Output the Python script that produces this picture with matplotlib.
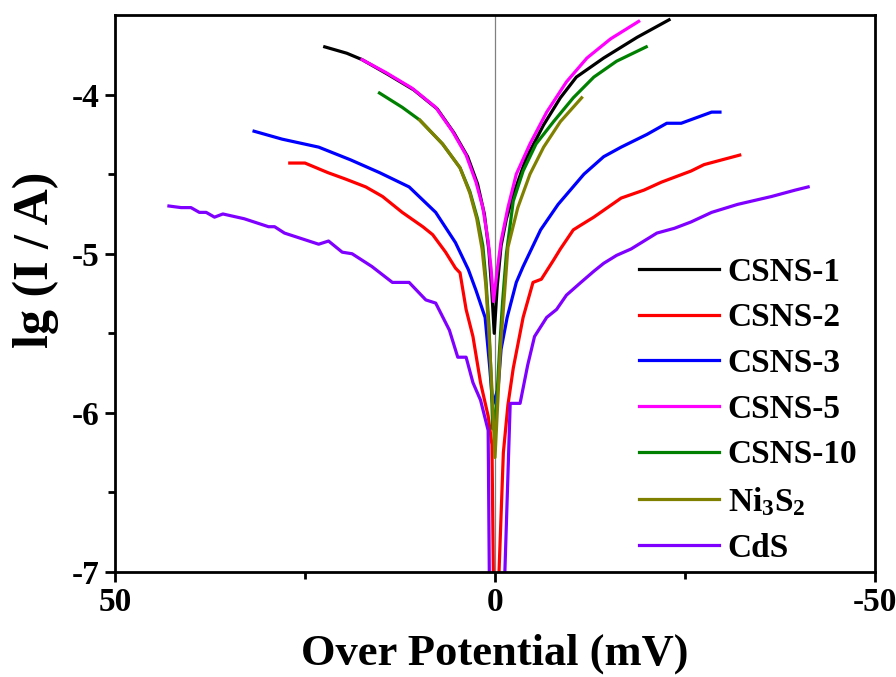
import matplotlib
matplotlib.use("Agg")
import matplotlib.pyplot as plt
from matplotlib.ticker import FixedLocator

plt.rcParams['font.family'] = ['Liberation Serif', 'DejaVu Serif']
plt.rcParams['font.weight'] = 'bold'
plt.rcParams['axes.unicode_minus'] = False
plt.rcParams['mathtext.fontset'] = 'custom'
plt.rcParams['mathtext.rm'] = 'Liberation Serif:bold'
plt.rcParams['mathtext.it'] = 'Liberation Serif:bold'
plt.rcParams['mathtext.bf'] = 'Liberation Serif:bold'

# ---- data (over potential in mV, lg I) ----
csns1_x = [22.4, 19.5, 17.5, 14.2, 10.7, 7.6, 5.4, 3.6, 2.3, 1.4, 0.8, 0.4, 0.1,
           -0.3, -0.8, -1.5, -2.4, -4.1, -6.4, -8.6, -10.7, -14.3, -18.7, -22.9]
csns1_y = [-3.70, -3.74, -3.78, -3.87, -3.97, -4.09, -4.24, -4.39, -4.56, -4.75, -4.98, -5.25, -5.5,
           -5.2, -4.95, -4.78, -4.63, -4.40, -4.19, -4.02, -3.89, -3.77, -3.64, -3.53]

csns2_x = [27, 25, 22, 19.7, 17, 14.8, 12.2, 9.5, 8.2, 6.5, 5.2, 4.6, 3.8, 2.9, 1.9, 0.9, 0.4, 0.15,
           -0.3, -1.1, -1.7, -2.4, -3.7, -5.0, -6.1, -7.7, -8.6, -10.3, -11.3, -13, -16.6, -19.6,
           -21.9, -25.8, -27.5, -32.2]
csns2_y = [-4.43, -4.43, -4.49, -4.53, -4.58, -4.64, -4.74, -4.83, -4.88, -4.99, -5.09, -5.12, -5.35,
           -5.52, -5.81, -6.02, -6.2, -7.3,
           -7.3, -6.25, -5.95, -5.72, -5.40, -5.18, -5.16, -5.04, -4.97, -4.85, -4.82, -4.77, -4.65,
           -4.60, -4.55, -4.48, -4.44, -4.38]

csns3_x = [31.7, 28, 23.2, 19, 15.2, 11.3, 7.8, 5.2, 3.5, 2.5, 1.3, 0.7, 0.3,
           -0.4, -0.8, -1.6, -2.8, -3.7, -6.0, -8.3, -11.7, -14.3, -16.6, -20, -22.6, -24.5,
           -28.5, -29.6]
csns3_y = [-4.23, -4.28, -4.33, -4.41, -4.49, -4.58, -4.74, -4.93, -5.10, -5.23, -5.40, -5.71, -5.95,
           -5.85, -5.6, -5.4, -5.18, -5.08, -4.85, -4.69, -4.50, -4.39, -4.33, -4.25, -4.18, -4.18,
           -4.11, -4.11]

csns5_x = [17.5, 14.4, 10.9, 7.8, 5.6, 3.8, 2.5, 1.6, 0.9, 0.5, 0.2,
           -0.3, -0.8, -1.7, -2.8, -4.6, -6.8, -9.4, -12.1, -15.2, -18.9]
csns5_y = [-3.78, -3.86, -3.96, -4.08, -4.23, -4.38, -4.55, -4.71, -4.92, -5.1, -5.3,
           -5.1, -4.92, -4.71, -4.50, -4.31, -4.11, -3.92, -3.77, -3.65, -3.54]

csns10_x = [15.2, 12.2, 9.9, 6.9, 4.6, 3.3, 2.3, 1.6, 1.2, 0.8, 0.5, 0.3,
            -0.2, -0.6, -1.0, -1.5, -2.4, -3.7, -5.4, -7.7, -10.3, -13, -16, -19.9]
csns10_y = [-3.99, -4.08, -4.16, -4.31, -4.46, -4.61, -4.78, -4.95, -5.16, -5.45, -5.79, -6.1,
            -5.95, -5.6, -5.3, -5.0, -4.67, -4.48, -4.31, -4.17, -4.02, -3.89, -3.79, -3.70]

ni3s2_x = [9.9, 6.9, 4.6, 3.3, 2.4, 1.7, 1.2, 0.8, 0.4, 0.0,
           -0.4, -0.7, -1.1, -1.7, -3.0, -4.6, -6.4, -8.6, -11.4]
ni3s2_y = [-4.16, -4.31, -4.46, -4.62, -4.78, -4.97, -5.2, -5.5, -5.85, -6.28,
           -5.9, -5.6, -5.35, -4.96, -4.71, -4.50, -4.33, -4.17, -4.02]

cds_x = [42.9, 41.3, 40, 38.9, 38, 36.9, 35.8, 33, 29.8, 29, 27.7, 23.2, 21.9, 20.1, 18.8, 16.2,
         13.5, 11.3, 9.1, 7.8, 6, 4.9, 3.8, 2.9, 1.9, 0.9, 0.7,
         -1.1, -2.0, -3.3, -4.3, -5.2, -6.8, -8.1, -9.4, -11.3, -13, -14.3, -16, -17.9, -21.3,
         -23.6, -25.8, -28.5, -31.9, -36.4, -39.5, -41.2]
cds_y = [-4.70, -4.71, -4.71, -4.74, -4.74, -4.77, -4.75, -4.78, -4.83, -4.83, -4.87, -4.94, -4.92,
         -4.99, -5.0, -5.08, -5.18, -5.18, -5.29, -5.31, -5.48, -5.65, -5.65, -5.81, -5.92, -6.11, -7.3,
         -7.3, -5.94, -5.94, -5.70, -5.52, -5.40, -5.35, -5.26, -5.18, -5.11, -5.06, -5.01, -4.97,
         -4.87, -4.84, -4.80, -4.74, -4.69, -4.64, -4.60, -4.58]

labels = ['CSNS-1', 'CSNS-2', 'CSNS-3', 'CSNS-5', 'CSNS-10', r'Ni$_{3}$S$_{2}$', 'CdS']
colors = ['#000000', '#ff0000', '#0000ff', '#ff00ff', '#008000', '#808000', '#8000ff']
series_x = [csns1_x, csns2_x, csns3_x, csns5_x, csns10_x, ni3s2_x, cds_x]
series_y = [csns1_y, csns2_y, csns3_y, csns5_y, csns10_y, ni3s2_y, cds_y]

x_major = [50, 0, -50]
x_minor = [25, -25]
y_major = [-7, -6, -5, -4]
y_minor = [-6.5, -5.5, -4.5]

fig = plt.figure(figsize=(8.96, 6.77), dpi=100)
ax = fig.add_axes([0.1283, 0.155, 0.8483, 0.8228])

ax.axvline(0, color='#808080', lw=0.9, zorder=1)
for xs, ys, c, lab in zip(series_x, series_y, colors, labels):
    ax.plot(xs, ys, color=c, lw=2.3, label=lab, zorder=2)

ax.set_xlim(50, -50)
ax.set_ylim(-7, -3.5)
ax.xaxis.set_major_locator(FixedLocator(x_major))
ax.xaxis.set_minor_locator(FixedLocator(x_minor))
ax.yaxis.set_major_locator(FixedLocator(y_major))
ax.yaxis.set_minor_locator(FixedLocator(y_minor))
ax.tick_params(which='major', direction='out', length=7, width=2, labelsize=24, pad=4)
ax.tick_params(which='minor', direction='out', length=5, width=2)
for s in ax.spines.values():
    s.set_linewidth(2)
for lbl in ax.get_xticklabels() + ax.get_yticklabels():
    lbl.set_fontweight('bold')

ax.set_xlabel('Over Potential (mV)', fontsize=32, fontweight='bold', labelpad=11)
ax.set_ylabel('lg (I / A)', fontsize=36, fontweight='bold')
ax.yaxis.set_label_coords(-0.074, 0.56)

leg = ax.legend(loc='upper left', bbox_to_anchor=(0.69, 0.566), frameon=False,
                prop={'family': 'Liberation Serif', 'weight': 'bold', 'size': 24},
                handlelength=2.4, handletextpad=0.25, labelspacing=0.44, borderaxespad=0,
                borderpad=0)

fig.savefig('out.png', dpi=100)
